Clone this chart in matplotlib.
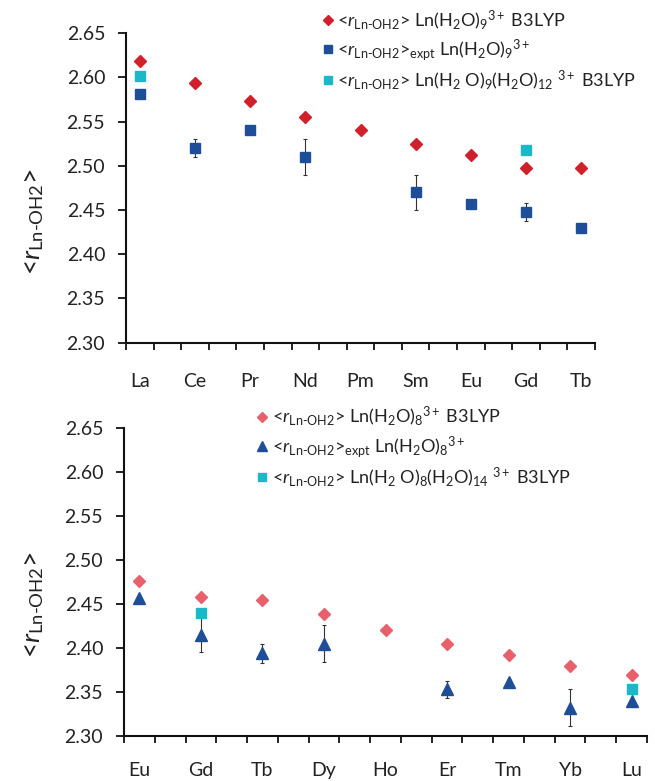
import numpy as np
import matplotlib
matplotlib.use("Agg")
import matplotlib.pyplot as plt

plt.rcParams["font.family"] = ["Lato", "DejaVu Sans"]
plt.rcParams["mathtext.fontset"] = "custom"
plt.rcParams["mathtext.rm"] = "Lato"
plt.rcParams["mathtext.it"] = "Lato:italic"
plt.rcParams["mathtext.bf"] = "Lato:bold"
plt.rcParams["text.color"] = "#222222"
plt.rcParams["axes.labelcolor"] = "#222222"
plt.rcParams["xtick.color"] = "#222222"
plt.rcParams["ytick.color"] = "#222222"

# nine-coordinate series (La .. Tb)
ln9 = ["La", "Ce", "Pr", "Nd", "Pm", "Sm", "Eu", "Gd", "Tb"]
calc9 = [2.618, 2.593, 2.573, 2.555, 2.540, 2.525, 2.512, 2.497, 2.497]
expt9 = [2.581, 2.520, 2.540, 2.510, np.nan, 2.470, 2.457, 2.448, 2.430]
expt9_err = [0.0, 0.010, 0.0, 0.020, 0.0, 0.020, 0.0, 0.010, 0.0]
clus9 = [2.601, np.nan, np.nan, np.nan, np.nan, np.nan, np.nan, 2.518, np.nan]

# eight-coordinate series (Eu .. Lu)
ln8 = ["Eu", "Gd", "Tb", "Dy", "Ho", "Er", "Tm", "Yb", "Lu"]
calc8 = [2.476, 2.458, 2.454, 2.439, 2.420, 2.405, 2.392, 2.380, 2.369]
expt8 = [2.457, 2.415, 2.394, 2.405, np.nan, 2.353, 2.361, 2.332, 2.340]
expt8_err = [0.0, 0.020, 0.011, 0.021, 0.0, 0.010, 0.0, 0.021, 0.0]
clus8 = [np.nan, 2.440, np.nan, np.nan, np.nan, np.nan, np.nan, np.nan, 2.353]

yticks = [2.30, 2.35, 2.40, 2.45, 2.50, 2.55, 2.60, 2.65]

RED_DARK = "#d0202c"
RED_LIGHT = "#e8606c"
BLUE = "#1f4e98"
CYAN = "#1ab8c8"

RLN = r"<$r_{\mathrm{Ln\text{-}OH2}}$>"


def style_axis(ax, names, label_x, label_y, xpad):
    x = np.arange(len(names))
    ax.set_xlim(-0.25, len(names) - 0.75)
    ax.set_ylim(2.30, 2.65)
    ax.set_yticks(yticks)
    ax.set_yticklabels(["%.2f" % v for v in yticks])
    # tick marks sit between labels, labels sit on the categories
    ax.set_xticks(np.arange(-0.25, len(names) - 0.7, 0.5))
    ax.set_xticklabels([])
    ax.set_xticks(x, minor=True)
    ax.set_xticklabels(names, minor=True)
    ax.tick_params(axis="x", which="major", direction="out", length=5, width=1.4)
    ax.tick_params(axis="x", which="minor", length=0, pad=xpad, labelsize=14)
    ax.tick_params(axis="y", direction="out", length=6, width=1.4, pad=9,
                   labelsize=14)
    for s in ["top", "right"]:
        ax.spines[s].set_visible(False)
    for s in ["left", "bottom"]:
        ax.spines[s].set_linewidth(1.5)
        ax.spines[s].set_color("#111111")
    ax.set_ylabel(RLN, fontsize=19)
    ax.yaxis.set_label_coords(label_x, label_y)
    return x


fig = plt.figure(figsize=(6.55, 7.81), dpi=100)
ax0 = fig.add_axes([0.1924, 0.5612, 0.7160, 0.3965])
ax1 = fig.add_axes([0.1893, 0.0576, 0.7985, 0.3944])

err_opts = dict(fmt="none", ecolor="#333333", elinewidth=0.8, capsize=1.5,
                capthick=0.8, zorder=1)
leg_opts = dict(loc="upper left", frameon=False, fontsize=13,
                handlelength=0.5, handletextpad=0.3, labelspacing=0.3,
                borderpad=0, borderaxespad=0, markerscale=0.8)

# top panel
x0 = style_axis(ax0, ln9, -0.17, 0.39, 22)
ax0.errorbar(x0, expt9, yerr=expt9_err, **err_opts)
h1, = ax0.plot(x0, calc9, "D", color=RED_DARK, ms=6.5, ls="none", zorder=3)
h2, = ax0.plot(x0, expt9, "s", color=BLUE, ms=7.5, ls="none", zorder=2)
h3, = ax0.plot(x0, clus9, "s", color=CYAN, ms=7.5, ls="none", zorder=2)
ax0.legend([h1, h2, h3],
           [RLN + r" Ln(H$_2$O)$_9$$^{3+}$ B3LYP",
            RLN + r"$_{\mathrm{expt}}$ Ln(H$_2$O)$_9$$^{3+}$",
            RLN + r" Ln(H$_2$ O)$_9$(H$_2$O)$_{12}$ $^{3+}$ B3LYP"],
           bbox_to_anchor=(0.42, 1.08), **leg_opts)

# bottom panel
x1 = style_axis(ax1, ln8, -0.15, 0.425, 19)
ax1.errorbar(x1, expt8, yerr=expt8_err, **err_opts)
g1, = ax1.plot(x1, calc8, "D", color=RED_LIGHT, ms=6.5, ls="none", zorder=3)
g3, = ax1.plot(x1, clus8, "s", color=CYAN, ms=7.5, ls="none", zorder=2)
g2, = ax1.plot(x1, expt8, "^", color=BLUE, ms=8.5, ls="none", zorder=3)
ax1.legend([g1, g2, g3],
           [RLN + r" Ln(H$_2$O)$_8$$^{3+}$ B3LYP",
            RLN + r"$_{\mathrm{expt}}$ Ln(H$_2$O)$_8$$^{3+}$",
            RLN + r" Ln(H$_2$ O)$_8$(H$_2$O)$_{14}$ $^{3+}$ B3LYP"],
           bbox_to_anchor=(0.255, 1.075), **leg_opts)

fig.savefig("out.png", dpi=100)
